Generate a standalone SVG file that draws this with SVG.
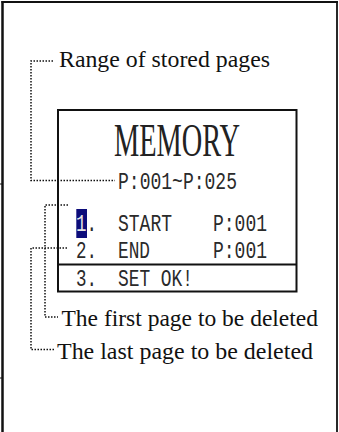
<svg xmlns="http://www.w3.org/2000/svg" width="339" height="432" viewBox="0 0 339 432">
<style>
.frame{fill:none;stroke:#111;}
.box{fill:none;stroke:#111;stroke-width:2;}
.dot{fill:none;stroke:#111;stroke-width:1.5;stroke-dasharray:1.5 1.5;}
.lbl{font-family:"Liberation Serif","Times New Roman",serif;font-size:23px;fill:#111;}
.lcd{font-family:"Liberation Mono","Courier New",monospace;font-size:24px;fill:#2a2a2a;}
.big{font-family:"Liberation Serif","Times New Roman",serif;font-size:47px;fill:#222;}
</style>
<defs>
<linearGradient id="hl" gradientUnits="userSpaceOnUse" x1="76" y1="0" x2="98" y2="0">
<stop offset="0" stop-color="#e4e4e4"/>
<stop offset="0.5" stop-color="#e4e4e4"/>
<stop offset="0.5" stop-color="#2a2a2a"/>
<stop offset="1" stop-color="#2a2a2a"/>
</linearGradient>
</defs>
<rect width="339" height="432" fill="#fff"/>
<g id="frame">
<line class="frame" x1="2.5" y1="1" x2="2.5" y2="432" stroke-width="2.5"/>
<line class="frame" x1="1.5" y1="2" x2="338" y2="2" stroke-width="2"/>
<line class="frame" x1="337" y1="1" x2="337" y2="432" stroke-width="1.8"/>
<line class="frame" x1="0" y1="184" x2="3" y2="184" stroke-width="1"/>
<line class="frame" x1="0" y1="378" x2="3" y2="378" stroke-width="1"/>
</g>
<g id="lcd">
<rect class="box" x="58" y="110" width="238.5" height="181.5"/>
<line class="box" x1="58" y1="264.5" x2="296.5" y2="264.5"/>
<text class="big" x="114" y="156" textLength="126" lengthAdjust="spacingAndGlyphs">MEMORY</text>
<text class="lcd" x="118" y="189" textLength="119" lengthAdjust="spacingAndGlyphs">P:001~P:025</text>
<rect x="76.3" y="209" width="10.7" height="29" fill="#0c0c7a"/>
<text class="lcd" x="76" y="231" textLength="21" lengthAdjust="spacingAndGlyphs" style="fill:url(#hl)">1.</text>
<text class="lcd" x="118" y="231" textLength="54" lengthAdjust="spacingAndGlyphs">START</text>
<text class="lcd" x="213" y="231" textLength="54" lengthAdjust="spacingAndGlyphs">P:001</text>
<text class="lcd" x="76" y="258" textLength="21" lengthAdjust="spacingAndGlyphs">2.</text>
<text class="lcd" x="118" y="258" textLength="32" lengthAdjust="spacingAndGlyphs">END</text>
<text class="lcd" x="213" y="258" textLength="54" lengthAdjust="spacingAndGlyphs">P:001</text>
<text class="lcd" x="76" y="286" textLength="21" lengthAdjust="spacingAndGlyphs">3.</text>
<text class="lcd" x="118" y="286" textLength="75" lengthAdjust="spacingAndGlyphs">SET OK!</text>
</g>
<g id="label-range">
<text class="lbl" x="59" y="67" textLength="211" lengthAdjust="spacingAndGlyphs">Range of stored pages</text>
</g>
<g id="label-first">
<text class="lbl" x="61.5" y="326" textLength="256.5" lengthAdjust="spacingAndGlyphs">The first page to be deleted</text>
</g>
<g id="label-last">
<text class="lbl" x="57" y="359" textLength="256" lengthAdjust="spacingAndGlyphs">The last page to be deleted</text>
</g>
<g id="connectors">
<polyline class="dot" points="53,61 31,61 31,180.5 115,180.5"/>
<polyline class="dot" points="68,205 45,205 45,317 58,317"/>
<polyline class="dot" points="67,248 31,248 31,349.5 55,349.5"/>
</g>
</svg>
